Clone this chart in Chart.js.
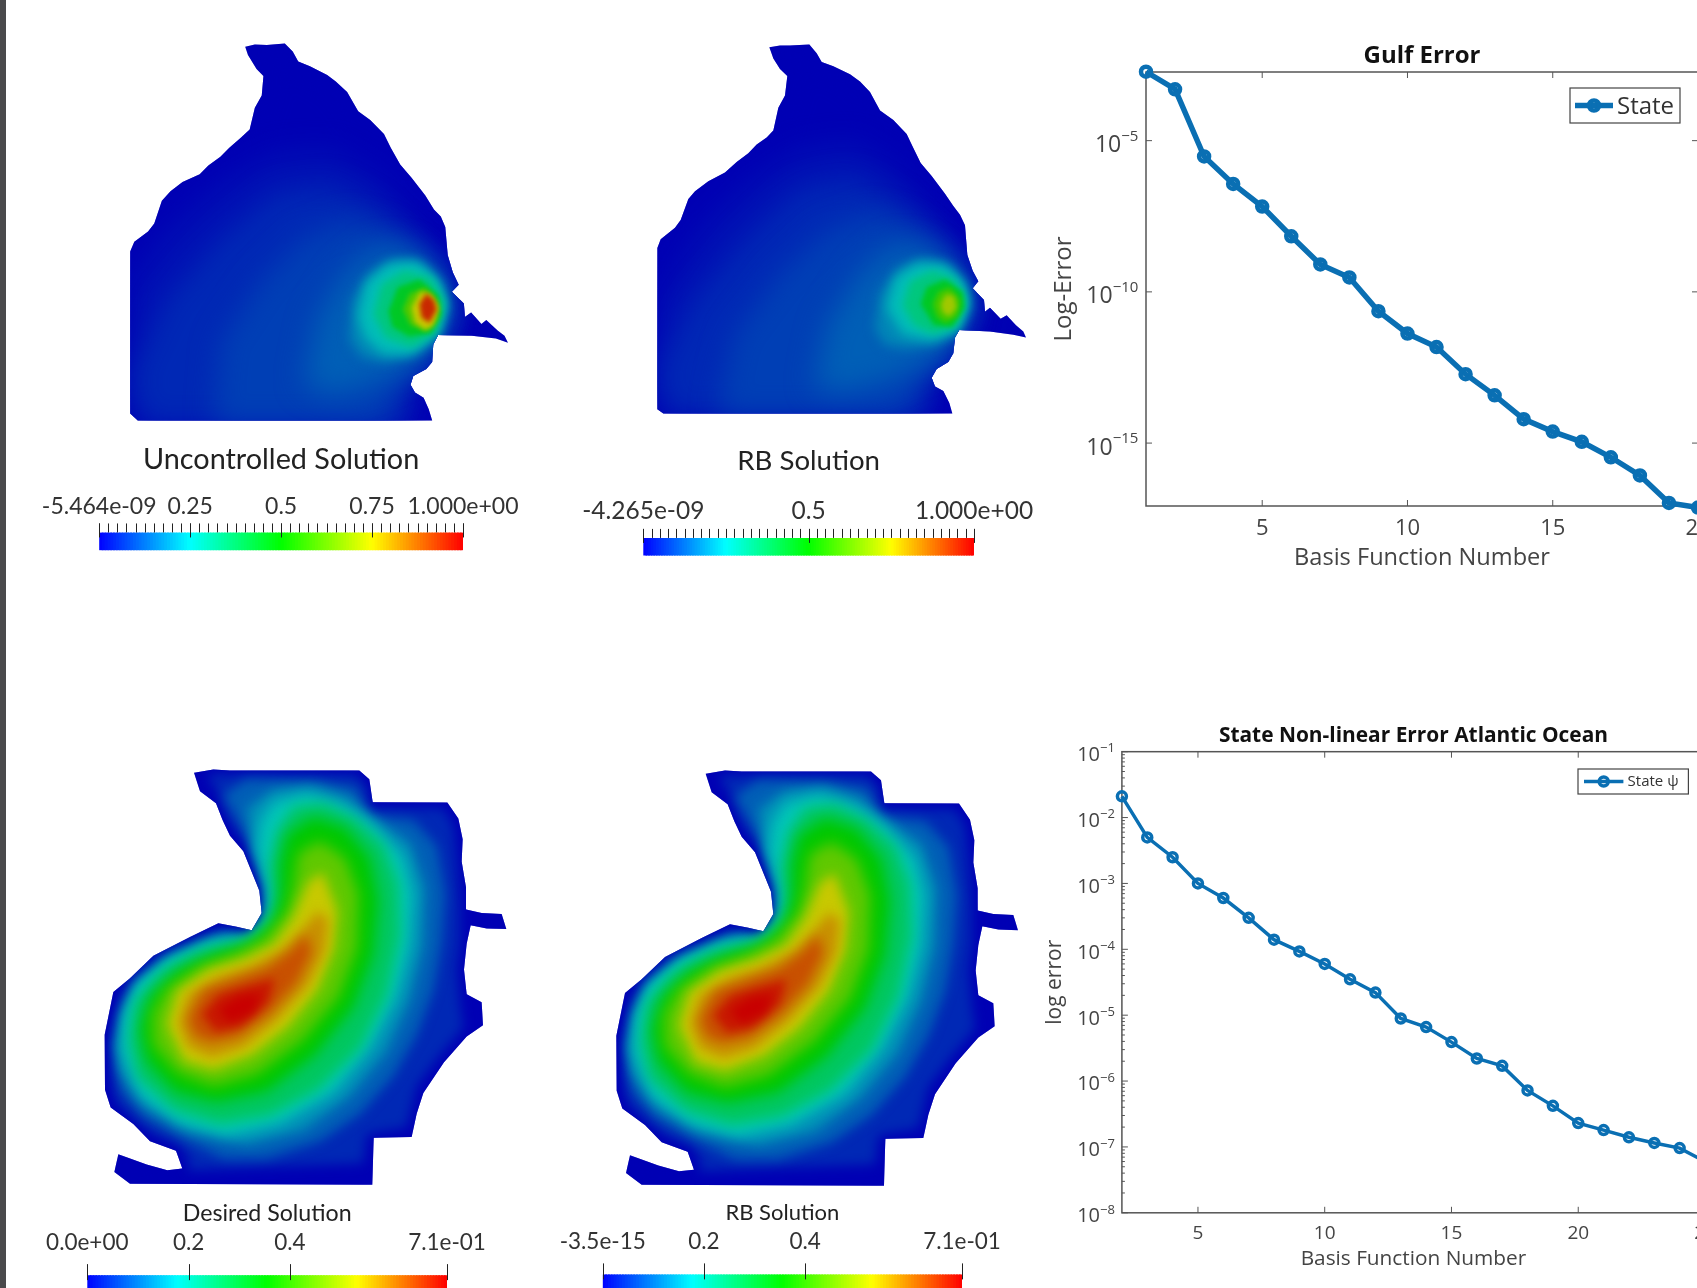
<!DOCTYPE html>
<html>
<head>
<meta charset="utf-8">
<title>Reduced basis solutions and errors</title>
<script src="https://cdn.jsdelivr.net/npm/chart.js@4/dist/chart.umd.min.js"></script>
<style>
html, body { margin: 0; padding: 0; background: #fff; width: 1697px; height: 1288px; overflow: hidden; }
#page { position: relative; width: 1697px; height: 1288px; overflow: hidden; }
#edge { position: absolute; left: 0; top: 0; width: 6px; height: 1288px; background: #4a4a4c; }
canvas { position: absolute; }
</style>
</head>
<body>
<div id="page"><div id="edge"></div></div>
<script>
// error curves
const gulfBasis = [1, 2, 3, 4, 5, 6, 7, 8, 9, 10, 11, 12, 13, 14, 15, 16, 17, 18, 19, 20];
const gulfError = [1.9e-3, 5.0e-4, 3.0e-6, 3.7e-7, 6.6e-8, 6.9e-9, 8.1e-10, 3.0e-10, 2.3e-11, 4.2e-12,
    1.5e-12, 1.9e-13, 3.8e-14, 6.2e-15, 2.4e-15, 1.1e-15, 3.4e-16, 8.5e-17, 1.05e-17, 7.4e-18];
const gulfDecades = [1e-5, 1e-10, 1e-15];

const atlanticBasis = [2, 3, 4, 5, 6, 7, 8, 9, 10, 11, 12, 13, 14, 15, 16, 17, 18, 19, 20, 21, 22, 23, 24, 25];
const atlanticError = [2.1e-2, 5.0e-3, 2.5e-3, 1.0e-3, 6.0e-4, 3.0e-4, 1.4e-4, 9.3e-5, 6.0e-5, 3.5e-5, 2.2e-5, 8.9e-6,
    6.6e-6, 3.9e-6, 2.2e-6, 1.7e-6, 7.2e-7, 4.2e-7, 2.3e-7, 1.8e-7, 1.4e-7, 1.15e-7, 9.6e-8, 6e-8];
const atlanticDecades = [1e-1, 1e-2, 1e-3, 1e-4, 1e-5, 1e-6, 1e-7, 1e-8];

// gulf domain, mesh units
const gulfOutline = [[712,76],[740,70],[775,71],[827,67],[850,90],[866,118],[900,132],[950,157],[975,175],[1008,205],[1040,260],[1075,285],[1115,325],[1135,365],[1162,412],[1195,450],[1235,500],[1260,540],[1280,560],[1293,590],[1300,670],[1315,720],[1332,755],[1312,775],[1347,808],[1350,847],[1368,834],[1398,867],[1412,855],[1445,885],[1465,900],[1475,920],[1440,908],[1370,900],[1272,898],[1258,925],[1255,975],[1238,995],[1200,1015],[1192,1040],[1205,1062],[1230,1077],[1245,1110],[1255,1142],[400,1142],[378,1122],[378,660],[390,632],[430,603],[448,580],[470,515],[495,488],[530,462],[580,440],[605,415],[640,390],[665,365],[700,335],[725,312],[740,250],[760,215],[765,160],[745,140],[720,100]];
const uncontrolledLevels = [0.02, 0.05, 0.08, 0.12, 0.17, 0.24, 0.33, 0.45, 0.6, 0.75, 0.95];
const uncontrolledContours = [
    [[378,760],[470,620],[640,470],[800,380],[960,370],[1100,450],[1210,580],[1285,680],[1320,770],[1345,840],[1330,890],[1270,910],[1250,980],[1200,1030],[1185,1060],[1215,1150],[378,1150]],
    [[378,1020],[480,800],[640,620],[800,490],[960,470],[1090,540],[1200,640],[1270,710],[1300,770],[1320,840],[1290,895],[1250,930],[1235,980],[1170,1040],[1170,1090],[1180,1150],[420,1150]],
    [[620,1150],[640,920],[760,740],[880,620],[1010,570],[1120,600],[1220,670],[1285,750],[1305,830],[1270,900],[1240,960],[1190,1010],[1140,1060],[1120,1150]],
    [[880,1040],[920,850],[1000,720],[1090,650],[1180,650],[1260,710],[1295,800],[1280,880],[1240,950],[1170,1000],[1080,1040],[970,1070]],
    [[1015,910],[1025,800],[1075,725],[1150,685],[1235,705],[1290,790],[1280,880],[1220,945],[1120,975],[1050,960]],
    [[1040,845],[1062,750],[1125,695],[1210,685],[1280,745],[1300,820],[1270,900],[1190,955],[1110,950],[1060,905]],
    [[1085,840],[1108,755],[1175,715],[1250,735],[1292,805],[1268,890],[1195,932],[1120,905]],
    [[1128,830],[1155,762],[1218,740],[1272,785],[1282,840],[1252,892],[1188,902],[1140,875]],
    [[1170,825],[1190,780],[1235,762],[1270,802],[1270,852],[1238,886],[1192,870]],
    [[1195,820],[1220,775],[1252,782],[1275,820],[1258,872],[1235,884],[1205,862]],
    [[1218,810],[1238,780],[1260,798],[1268,825],[1247,864],[1224,848]]
];

const gulfRbOutline = [[628,78],[660,73],[690,73],[748,70],[770,95],[785,120],[820,132],[870,155],[900,175],[930,205],[960,258],[1000,285],[1040,325],[1060,365],[1082,408],[1115,445],[1155,495],[1180,530],[1200,555],[1215,585],[1222,670],[1238,715],[1255,745],[1238,765],[1272,798],[1275,832],[1290,820],[1322,852],[1340,842],[1368,870],[1390,888],[1398,905],[1360,897],[1290,888],[1198,884],[1185,905],[1180,950],[1165,975],[1130,995],[1115,1020],[1125,1045],[1150,1058],[1168,1092],[1177,1122],[310,1122],[292,1110],[292,650],[302,625],[345,592],[362,570],[385,510],[405,488],[445,460],[495,435],[530,405],[565,380],[590,355],[620,335],[640,315],[655,250],[675,215],[682,160],[660,140],[640,110]];
const gulfRbLevels = [0.02, 0.05, 0.08, 0.12, 0.17, 0.24, 0.33, 0.45, 0.58, 0.7];
const gulfRbContours = [
    [[292,800],[420,600],[560,470],[720,370],[880,350],[1000,420],[1110,540],[1190,640],[1235,730],[1255,800],[1290,860],[1200,900],[1175,960],[1120,1010],[1100,1040],[1130,1125],[292,1125]],
    [[292,1000],[400,800],[560,620],[720,480],[880,450],[1010,520],[1110,610],[1190,690],[1222,760],[1240,830],[1200,885],[1170,930],[1150,970],[1095,1020],[1090,1070],[1100,1125],[330,1125]],
    [[470,1125],[520,900],[660,720],[800,600],[940,550],[1060,590],[1150,660],[1210,750],[1225,820],[1190,885],[1160,950],[1100,1000],[1060,1060],[1040,1125]],
    [[760,1050],[800,870],[900,720],[1000,640],[1100,650],[1180,710],[1220,790],[1190,880],[1150,940],[1080,990],[980,1030],[860,1060]],
    [[945,880],[960,780],[1015,710],[1090,680],[1175,705],[1225,790],[1195,880],[1130,925],[1040,935],[975,925]],
    [[980,820],[1005,735],[1068,695],[1150,695],[1215,748],[1230,820],[1190,890],[1110,912],[1028,895]],
    [[1028,815],[1050,745],[1118,715],[1182,738],[1218,798],[1192,872],[1120,895],[1062,870]],
    [[1082,810],[1100,762],[1155,740],[1208,775],[1214,822],[1176,875],[1122,870]],
    [[1118,810],[1135,775],[1170,762],[1202,798],[1192,845],[1156,864],[1130,845]],
    [[1142,810],[1158,782],[1182,787],[1190,820],[1168,845],[1148,833]]
];

// atlantic domain, mesh units, same field for desired and RB
const atlanticOutline = [[342,66],[400,57],[450,60],[838,60],[868,85],[878,152],[1102,153],[1135,200],[1148,260],[1145,325],[1158,400],[1158,465],[1205,475],[1265,478],[1279,522],[1220,520],[1172,511],[1160,565],[1152,640],[1160,712],[1205,735],[1209,802],[1160,835],[1092,910],[1030,1000],[1010,1060],[995,1128],[881,1130],[877,1267],[150,1264],[103,1230],[115,1178],[200,1208],[262,1225],[307,1220],[288,1168],[210,1140],[160,1090],[92,1042],[75,990],[74,830],[100,705],[150,665],[220,600],[330,545],[415,505],[470,515],[515,525],[545,475],[538,410],[490,295],[450,250],[428,205],[408,155],[360,120]];
const atlanticLevels = [0.05, 0.12, 0.18, 0.25, 0.37, 0.5, 0.62, 0.75, 0.82, 0.9, 0.97, 1];
const atlanticContours = [
    [[380,70],[830,70],[860,110],[870,170],[1090,170],[1120,220],[1130,320],[1140,460],[1140,560],[1130,640],[1140,740],[1150,810],[1080,890],[1010,980],[980,1100],[860,1120],[850,1205],[320,1225],[330,1200],[300,1150],[220,1120],[110,1030],[95,960],[95,830],[120,720],[170,680],[240,620],[340,560],[420,520],[510,540],[560,480],[555,400],[510,290],[470,240],[440,190],[420,140]],
    [[430,130],[500,85],[700,90],[830,110],[860,190],[1000,205],[1070,280],[1095,420],[1085,560],[1060,700],[1010,830],[940,950],[840,1060],[720,1140],[560,1190],[430,1190],[300,1130],[190,1070],[120,990],[105,860],[130,760],[180,690],[260,625],[350,575],[430,535],[510,555],[570,490],[570,400],[520,280],[470,200]],
    [[500,170],[580,115],[700,105],[800,135],[880,200],[990,270],[1035,400],[1030,570],[990,730],[920,880],[810,1010],[670,1110],[500,1150],[330,1110],[200,1040],[120,940],[110,860],[140,760],[190,680],[280,615],[380,565],[450,545],[520,555],[565,490],[565,410],[520,290]],
    [[540,210],[580,150],[680,125],[790,160],[880,220],[970,310],[1000,420],[990,570],[950,720],[870,870],[760,1000],[600,1090],[440,1125],[300,1090],[180,1010],[125,880],[125,780],[160,680],[260,600],[400,550],[510,545],[560,480],[560,400],[530,290]],
    [[590,240],[640,165],[730,155],[825,200],[910,275],[955,390],[960,540],[920,715],[840,870],[715,990],[570,1065],[420,1090],[285,1050],[175,955],[150,850],[165,735],[245,645],[360,585],[470,560],[535,535],[585,450],[570,340]],
    [[600,330],[622,245],[700,195],[795,225],[870,315],[895,440],[880,595],[820,750],[705,890],[560,995],[410,1025],[285,995],[200,905],[180,810],[212,715],[295,640],[410,590],[505,565],[580,500],[600,420]],
    [[640,400],[655,300],[720,265],[795,315],[835,420],[830,578],[775,720],[668,845],[530,945],[400,980],[292,940],[220,858],[217,770],[262,692],[360,628],[470,592],[552,550],[620,470]],
    [[262,800],[292,702],[385,640],[495,607],[582,565],[640,485],[685,385],[728,355],[772,470],[762,578],[712,700],[625,806],[518,888],[400,932],[312,906]],
    [[295,795],[325,710],[410,662],[510,630],[600,585],[665,525],[712,470],[745,495],[735,585],[685,685],[592,786],[490,866],[395,896],[325,866]],
    [[325,780],[370,700],[470,665],[560,635],[632,585],[680,535],[695,590],[650,680],[565,770],[472,835],[390,850],[342,830]],
    [[365,770],[418,712],[510,685],[585,665],[565,735],[485,805],[408,822]],
    [[415,757],[475,718],[545,708],[520,765],[450,795]]
];

// colour bar ticks
const uncontrolledBarValues = [0, 0.25, 0.5, 0.75, 1];
const uncontrolledBarLabels = ['-5.464e-09', '0.25', '0.5', '0.75', '1.000e+00'];
const gulfRbBarValues = [0, 0.5, 1];
const gulfRbBarLabels = ['-4.265e-09', '0.5', '1.000e+00'];
const desiredBarValues = [0, 0.2, 0.4, 0.71];
const desiredBarLabels = ['0.0e+00', '0.2', '0.4', '7.1e-01'];
const atlanticRbBarLabels = ['-3.5e-15', '0.2', '0.4', '7.1e-01'];

const MAP_FONT = 'Lato, "Open Sans", sans-serif';
const PLOT_FONT = '"Open Sans", "DejaVu Sans", sans-serif';
const BLUE = '#0a6fb3';

function ramp(stops, t) {
    const p = Math.max(0, Math.min(1, t)) * (stops.length - 1);
    const i = Math.min(Math.floor(p), stops.length - 2);
    const f = p - i;
    const c = [0, 1, 2].map(k => Math.round(stops[i][k] + (stops[i + 1][k] - stops[i][k]) * f));
    return 'rgb(' + c.join(',') + ')';
}
const litStops = [[0, 0, 180], [0, 198, 184], [0, 200, 0], [200, 200, 0], [200, 0, 0]];
const barStops = [[0, 0, 255], [0, 255, 255], [0, 255, 0], [255, 255, 0], [255, 0, 0]];

function addCanvas(x, y, w, h, soft) {
    const c = document.createElement('canvas');
    c.width = w;
    c.height = h;
    c.style.left = x + 'px';
    c.style.top = y + 'px';
    c.style.width = w + 'px';
    c.style.height = h + 'px';
    if (soft) c.style.filter = 'blur(' + soft + 'px)';
    document.getElementById('page').appendChild(c);
    return c;
}

// clips the contour fills to the domain (dataset 0); each band gets its own softness
const fieldClip = {
    id: 'fieldClip',
    beforeDatasetsDraw(chart) {
        const ctx = chart.ctx;
        const pts = chart.getDatasetMeta(0).data;
        const metas = chart.getSortedVisibleDatasetMetas();
        ctx.save();
        ctx.beginPath();
        pts.forEach((p, i) => i ? ctx.lineTo(p.x, p.y) : ctx.moveTo(p.x, p.y));
        ctx.closePath();
        ctx.clip();
        ctx.fillStyle = ramp(litStops, 0);
        ctx.fillRect(0, 0, chart.width, chart.height);
        ctx.filter = 'blur(' + chart.data.datasets[metas[metas.length - 1].index].soft + 'px)';
    },
    afterDatasetDraw(chart, args) {
        const metas = chart.getSortedVisibleDatasetMetas();
        const next = metas[metas.indexOf(args.meta) - 1];
        if (next) chart.ctx.filter = 'blur(' + chart.data.datasets[next.index].soft + 'px)';
    },
    afterDatasetsDraw(chart) {
        chart.ctx.restore();
    }
};

function drawMap(box, range, outline, levels, contours, softness) {
    const asPoints = list => list.map(p => ({ x: p[0], y: p[1] }));
    const shape = (pts, level, order) => ({
        data: asPoints(pts),
        showLine: true,
        fill: 'shape',
        backgroundColor: ramp(litStops, level),
        borderWidth: 0,
        pointRadius: 0,
        order: order,
        soft: softness(level)
    });
    const datasets = [shape(outline, 0, contours.length + 1)];
    contours.forEach((pts, i) => datasets.push(shape(pts, levels[i], contours.length - i)));
    new Chart(addCanvas(box[0], box[1], box[2], box[3], 0.5), {
        type: 'scatter',
        data: { datasets: datasets },
        plugins: [fieldClip],
        options: {
            responsive: false,
            animation: false,
            events: [],
            layout: { padding: 0, autoPadding: false },
            scales: {
                x: { type: 'linear', display: false, min: range[0], max: range[1] },
                y: { type: 'linear', display: false, reverse: true, min: range[2], max: range[3] }
            },
            plugins: { legend: { display: false }, tooltip: { enabled: false } }
        }
    });
}

// tick marks above the colour bar
const barTicks = {
    id: 'barTicks',
    afterDatasetsDraw(chart, args, opts) {
        const ctx = chart.ctx, x = chart.scales.x, top = chart.chartArea.top;
        ctx.save();
        ctx.strokeStyle = '#222';
        ctx.lineWidth = 1;
        const mark = (v, a, b) => {
            const px = Math.round(x.getPixelForValue(v)) + 0.5;
            ctx.beginPath();
            ctx.moveTo(px, top - a);
            ctx.lineTo(px, top + b);
            ctx.stroke();
        };
        for (let i = 0; i <= opts.minorCount; i++) mark(x.min + (x.max - x.min) * i / opts.minorCount, opts.rise, 0);
        opts.major.forEach(v => mark(v, opts.rise, opts.drop));
        ctx.restore();
    }
};

function drawBar(spec) {
    const [cx, cy, cw, ch] = spec.box;
    const cells = [];
    for (let i = 0; i < 128; i++) {
        const lo = spec.max * i / 128, hi = spec.max * (i + 1.4) / 128;
        cells.push({ data: [[lo, Math.min(hi, spec.max)]], backgroundColor: ramp(barStops, (i + 0.5) / 128), borderWidth: 0, grouped: false,
            barPercentage: 1, categoryPercentage: 1, order: 128 - i });
    }
    new Chart(addCanvas(cx, cy, cw, ch, 0.4), {
        type: 'bar',
        data: { labels: ['colour'], datasets: cells },
        plugins: [barTicks],
        options: {
            indexAxis: 'y',
            responsive: false,
            animation: false,
            events: [],
            layout: { autoPadding: false, padding: { left: spec.left, right: cw - spec.left - spec.barWidth, top: 0, bottom: spec.bottom } },
            scales: {
                y: { display: false },
                x: {
                    type: 'linear', position: 'top', min: 0, max: spec.max,
                    grid: { display: false, drawTicks: false },
                    border: { display: false },
                    afterFit(scale) { scale.height = spec.axisHeight; },
                    afterBuildTicks(scale) { scale.ticks = spec.values.map(v => ({ value: v })); },
                    ticks: {
                        autoSkip: false, maxRotation: 0, padding: spec.labelGap,
                        color: '#333',
                        font: { family: MAP_FONT, size: spec.labelSize },
                        callback: v => spec.labels[spec.values.indexOf(v)]
                    }
                }
            },
            plugins: {
                legend: { display: false },
                tooltip: { enabled: false },
                title: {
                    display: true, text: spec.title, fullSize: false, color: '#222',
                    font: { family: MAP_FONT, size: spec.titleSize, weight: 'normal', lineHeight: 1.2 },
                    padding: { top: spec.titleTop, bottom: 0 }
                },
                barTicks: { minorCount: spec.minorCount, major: spec.major, rise: spec.rise, drop: spec.drop }
            }
        }
    });
}

// box with inward ticks and power-of-ten labels, as the plotting tool draws them
const axesFrame = {
    id: 'axesFrame',
    beforeDatasetsDraw(chart, args, opts) {
        const ctx = chart.ctx, a = chart.chartArea, xs = chart.scales.x, ys = chart.scales.y;
        ctx.save();
        ctx.strokeStyle = '#555';
        ctx.lineWidth = 1.5;
        ctx.strokeRect(a.left, a.top, a.right - a.left, a.bottom - a.top);
        ctx.lineWidth = 1;
        const line = (x0, y0, x1, y1) => {
            ctx.beginPath();
            ctx.moveTo(x0, y0);
            ctx.lineTo(x1, y1);
            ctx.stroke();
        };
        xs.ticks.forEach(t => {
            const px = xs.getPixelForValue(t.value);
            line(px, a.bottom, px, a.bottom - opts.len);
            line(px, a.top, px, a.top + opts.len);
        });
        ctx.textAlign = 'right';
        ctx.textBaseline = 'middle';
        ctx.fillStyle = '#444';
        ys.ticks.forEach(t => {
            const py = ys.getPixelForValue(t.value);
            line(a.left, py, a.left + opts.len, py);
            line(a.right, py, a.right - opts.len, py);
            const exponent = '−' + Math.abs(Math.round(Math.log10(t.value)));
            ctx.font = opts.expSize + 'px ' + PLOT_FONT;
            ctx.fillText(exponent, a.left - opts.gap, py + opts.expShift);
            const w = ctx.measureText(exponent).width;
            ctx.font = opts.baseSize + 'px ' + PLOT_FONT;
            ctx.fillText('10', a.left - opts.gap - w, py + opts.baseShift);
        });
        if (opts.minor) {
            for (let e = -8; e < -1; e++) {
                for (let m = 2; m < 10; m++) {
                    const py = ys.getPixelForValue(m * Math.pow(10, e));
                    line(a.left, py, a.left + 3, py);
                    line(a.right, py, a.right - 3, py);
                }
            }
        }
        ctx.restore();
    }
};

const lineLegend = {
    id: 'lineLegend',
    afterDatasetsDraw(chart, args, opts) {
        const ctx = chart.ctx, ds = chart.data.datasets[0];
        const [x0, y0, x1, y1] = opts.box;
        const cy = (y0 + y1) / 2 + opts.shift;
        ctx.save();
        ctx.fillStyle = '#fff';
        ctx.fillRect(x0, y0, x1 - x0, y1 - y0);
        ctx.strokeStyle = '#444';
        ctx.lineWidth = 1.2;
        ctx.strokeRect(x0, y0, x1 - x0, y1 - y0);
        ctx.strokeStyle = BLUE;
        ctx.lineWidth = ds.borderWidth;
        ctx.beginPath();
        ctx.moveTo(opts.line[0], cy);
        ctx.lineTo(opts.line[1], cy);
        ctx.stroke();
        ctx.lineWidth = ds.pointBorderWidth;
        ctx.beginPath();
        ctx.arc((opts.line[0] + opts.line[1]) / 2, cy, ds.pointRadius, 0, Math.PI * 2);
        ctx.stroke();
        ctx.fillStyle = '#333';
        ctx.font = opts.size + 'px ' + PLOT_FONT;
        ctx.textBaseline = 'middle';
        ctx.fillText(ds.label, opts.textX, cy + opts.textShift);
        ctx.restore();
    }
};

function drawErrorPlot(spec) {
    const [cx, cy, cw, ch] = spec.box;
    new Chart(addCanvas(cx, cy, cw, ch, 0.3), {
        type: 'line',
        data: {
            labels: spec.basis,
            datasets: [{
                label: spec.label,
                data: spec.basis.map((b, i) => ({ x: b, y: spec.error[i] })),
                borderColor: BLUE,
                borderWidth: spec.lineWidth,
                pointRadius: spec.pointRadius,
                pointBorderWidth: spec.pointWidth,
                pointBorderColor: BLUE,
                pointBackgroundColor: 'transparent',
                tension: 0,
                clip: false
            }]
        },
        plugins: [axesFrame, lineLegend],
        options: {
            responsive: false,
            animation: false,
            events: [],
            layout: { autoPadding: false, padding: { left: 0, right: spec.right, top: 0, bottom: 0 } },
            scales: {
                x: {
                    type: 'linear', min: spec.xRange[0], max: spec.xRange[1],
                    grid: { display: false, drawTicks: false },
                    border: { display: false },
                    afterFit(scale) { scale.height = spec.bottom; },
                    afterBuildTicks(scale) { scale.ticks = spec.xTicks.map(v => ({ value: v })); },
                    ticks: { autoSkip: false, maxRotation: 0, padding: spec.xGap, color: '#444',
                        font: { family: PLOT_FONT, size: spec.tickSize } },
                    title: { display: true, text: 'Basis Function Number', color: '#444', padding: spec.xTitlePad,
                        font: { family: PLOT_FONT, size: spec.labelSize, lineHeight: 1.2 } }
                },
                y: {
                    type: 'logarithmic', min: spec.yRange[0], max: spec.yRange[1],
                    grid: { display: false, drawTicks: false },
                    border: { display: false },
                    afterFit(scale) { scale.width = spec.left; },
                    afterBuildTicks(scale) { scale.ticks = spec.decades.map(v => ({ value: v })); },
                    ticks: { display: false },
                    title: { display: true, text: spec.yTitle, color: '#444', padding: spec.yTitlePad,
                        font: { family: PLOT_FONT, size: spec.yLabelSize, lineHeight: 1.2 } }
                }
            },
            plugins: {
                legend: { display: false },
                tooltip: { enabled: false },
                title: {
                    display: true, text: spec.title, fullSize: false, color: '#111',
                    font: { family: PLOT_FONT, size: spec.titleSize, weight: 'bold', lineHeight: 1.2 },
                    padding: spec.titlePad
                },
                axesFrame: spec.frame,
                lineLegend: spec.legend
            }
        }
    });
}

const gulfSoft = level => level <= 0.12 ? 14 : level <= 0.24 ? 6 : level <= 0.33 ? 4 : 2.5;
const atlanticSoft = level => level <= 0.18 ? 6 : level <= 0.62 ? 7 : level <= 0.9 ? 6 : 5;

drawMap([0, 20, 540, 550], [0, 1568, 0, 1568], gulfOutline, uncontrolledLevels, uncontrolledContours, gulfSoft);
drawMap([560, 20, 500, 550], [0, 1500, 0, 1568], gulfRbOutline, gulfRbLevels, gulfRbContours, gulfSoft);
drawMap([80, 750, 460, 538], [0, 1380, 0, 1568], atlanticOutline, atlanticLevels, atlanticContours, atlanticSoft);
drawMap([540, 750, 500, 538], [-155, 1345, -3, 1565], atlanticOutline, atlanticLevels, atlanticContours, atlanticSoft);

drawBar({ box: [6, 440, 534, 120], left: 93.2, barWidth: 363.8, bottom: 9.7, axisHeight: 55.2, max: 1,
    values: uncontrolledBarValues, labels: uncontrolledBarLabels, title: 'Uncontrolled Solution', titleSize: 28.8, titleTop: 2.7,
    labelSize: 23, labelGap: 12, minorCount: 40, major: uncontrolledBarValues, rise: 9, drop: 5 });
drawBar({ box: [560, 440, 500, 124], left: 83.3, barWidth: 330.7, bottom: 8.4, axisHeight: 60.4, max: 1,
    values: gulfRbBarValues, labels: gulfRbBarLabels, title: 'RB Solution', titleSize: 27.6, titleTop: 4.4,
    labelSize: 24.5, labelGap: 12, minorCount: 40, major: gulfRbBarValues, rise: 9, drop: 5 });
drawBar({ box: [6, 1195, 534, 93], left: 81.3, barWidth: 359.7, bottom: 0, axisHeight: 48, max: 0.71,
    values: desiredBarValues, labels: desiredBarLabels, title: 'Desired Solution', titleSize: 23.2, titleTop: 4.3,
    labelSize: 22.5, labelGap: 19, minorCount: 0, major: desiredBarValues, rise: 11, drop: 5 });
drawBar({ box: [520, 1195, 520, 93], left: 82.7, barWidth: 359.3, bottom: 0, axisHeight: 48, max: 0.71,
    values: desiredBarValues, labels: atlanticRbBarLabels, title: 'RB Solution', titleSize: 22, titleTop: 5,
    labelSize: 22.5, labelGap: 19, minorCount: 0, major: desiredBarValues, rise: 11, drop: 5 });

drawErrorPlot({
    box: [1040, 30, 720, 560], left: 106, right: 62, bottom: 84,
    basis: gulfBasis, error: gulfError, label: 'State', title: 'Gulf Error', yTitle: 'Log-Error',
    xRange: [1, 20], xTicks: [5, 10, 15, 20], yRange: [Math.pow(10, -17.08), Math.pow(10, -2.73)],
    decades: gulfDecades,
    lineWidth: 5.5, pointRadius: 5, pointWidth: 4.5,
    tickSize: 22, labelSize: 23.6, yLabelSize: 24, titleSize: 24, titlePad: { top: 12, bottom: 1.2 }, xGap: 10,
    xTitlePad: { top: 18, bottom: 18 }, yTitlePad: { top: 10, bottom: 10 },
    frame: { len: 6, minor: false, gap: 7.6, baseSize: 23, expSize: 15, baseShift: 5, expShift: -4 },
    legend: { box: [530, 58, 640, 93], line: [535, 573], shift: 0, textShift: 2, textX: 577, size: 24 }
});
drawErrorPlot({
    box: [1030, 710, 730, 578], left: 91.9, right: 55, bottom: 75.2,
    basis: atlanticBasis, error: atlanticError, label: 'State ψ', title: 'State Non-linear Error Atlantic Ocean', yTitle: 'log error',
    xRange: [2, 25], xTicks: [5, 10, 15, 20, 25], yRange: [1e-8, 1e-1],
    decades: atlanticDecades,
    lineWidth: 3.5, pointRadius: 4.5, pointWidth: 3.5,
    tickSize: 19, labelSize: 20.8, yLabelSize: 21, titleSize: 20.9, titlePad: { top: 13.5, bottom: 3.1 }, xGap: 9,
    xTitlePad: { top: 16.5, bottom: 16.5 }, yTitlePad: { top: 12.5, bottom: 12.5 },
    frame: { len: 6, minor: true, gap: 7, baseSize: 20, expSize: 13, baseShift: 3.7, expShift: -3 },
    legend: { box: [548, 59, 658.4, 84], line: [554, 593.4], shift: 0, textShift: 0, textX: 597.6, size: 15 }
});
</script>
</body>
</html>
